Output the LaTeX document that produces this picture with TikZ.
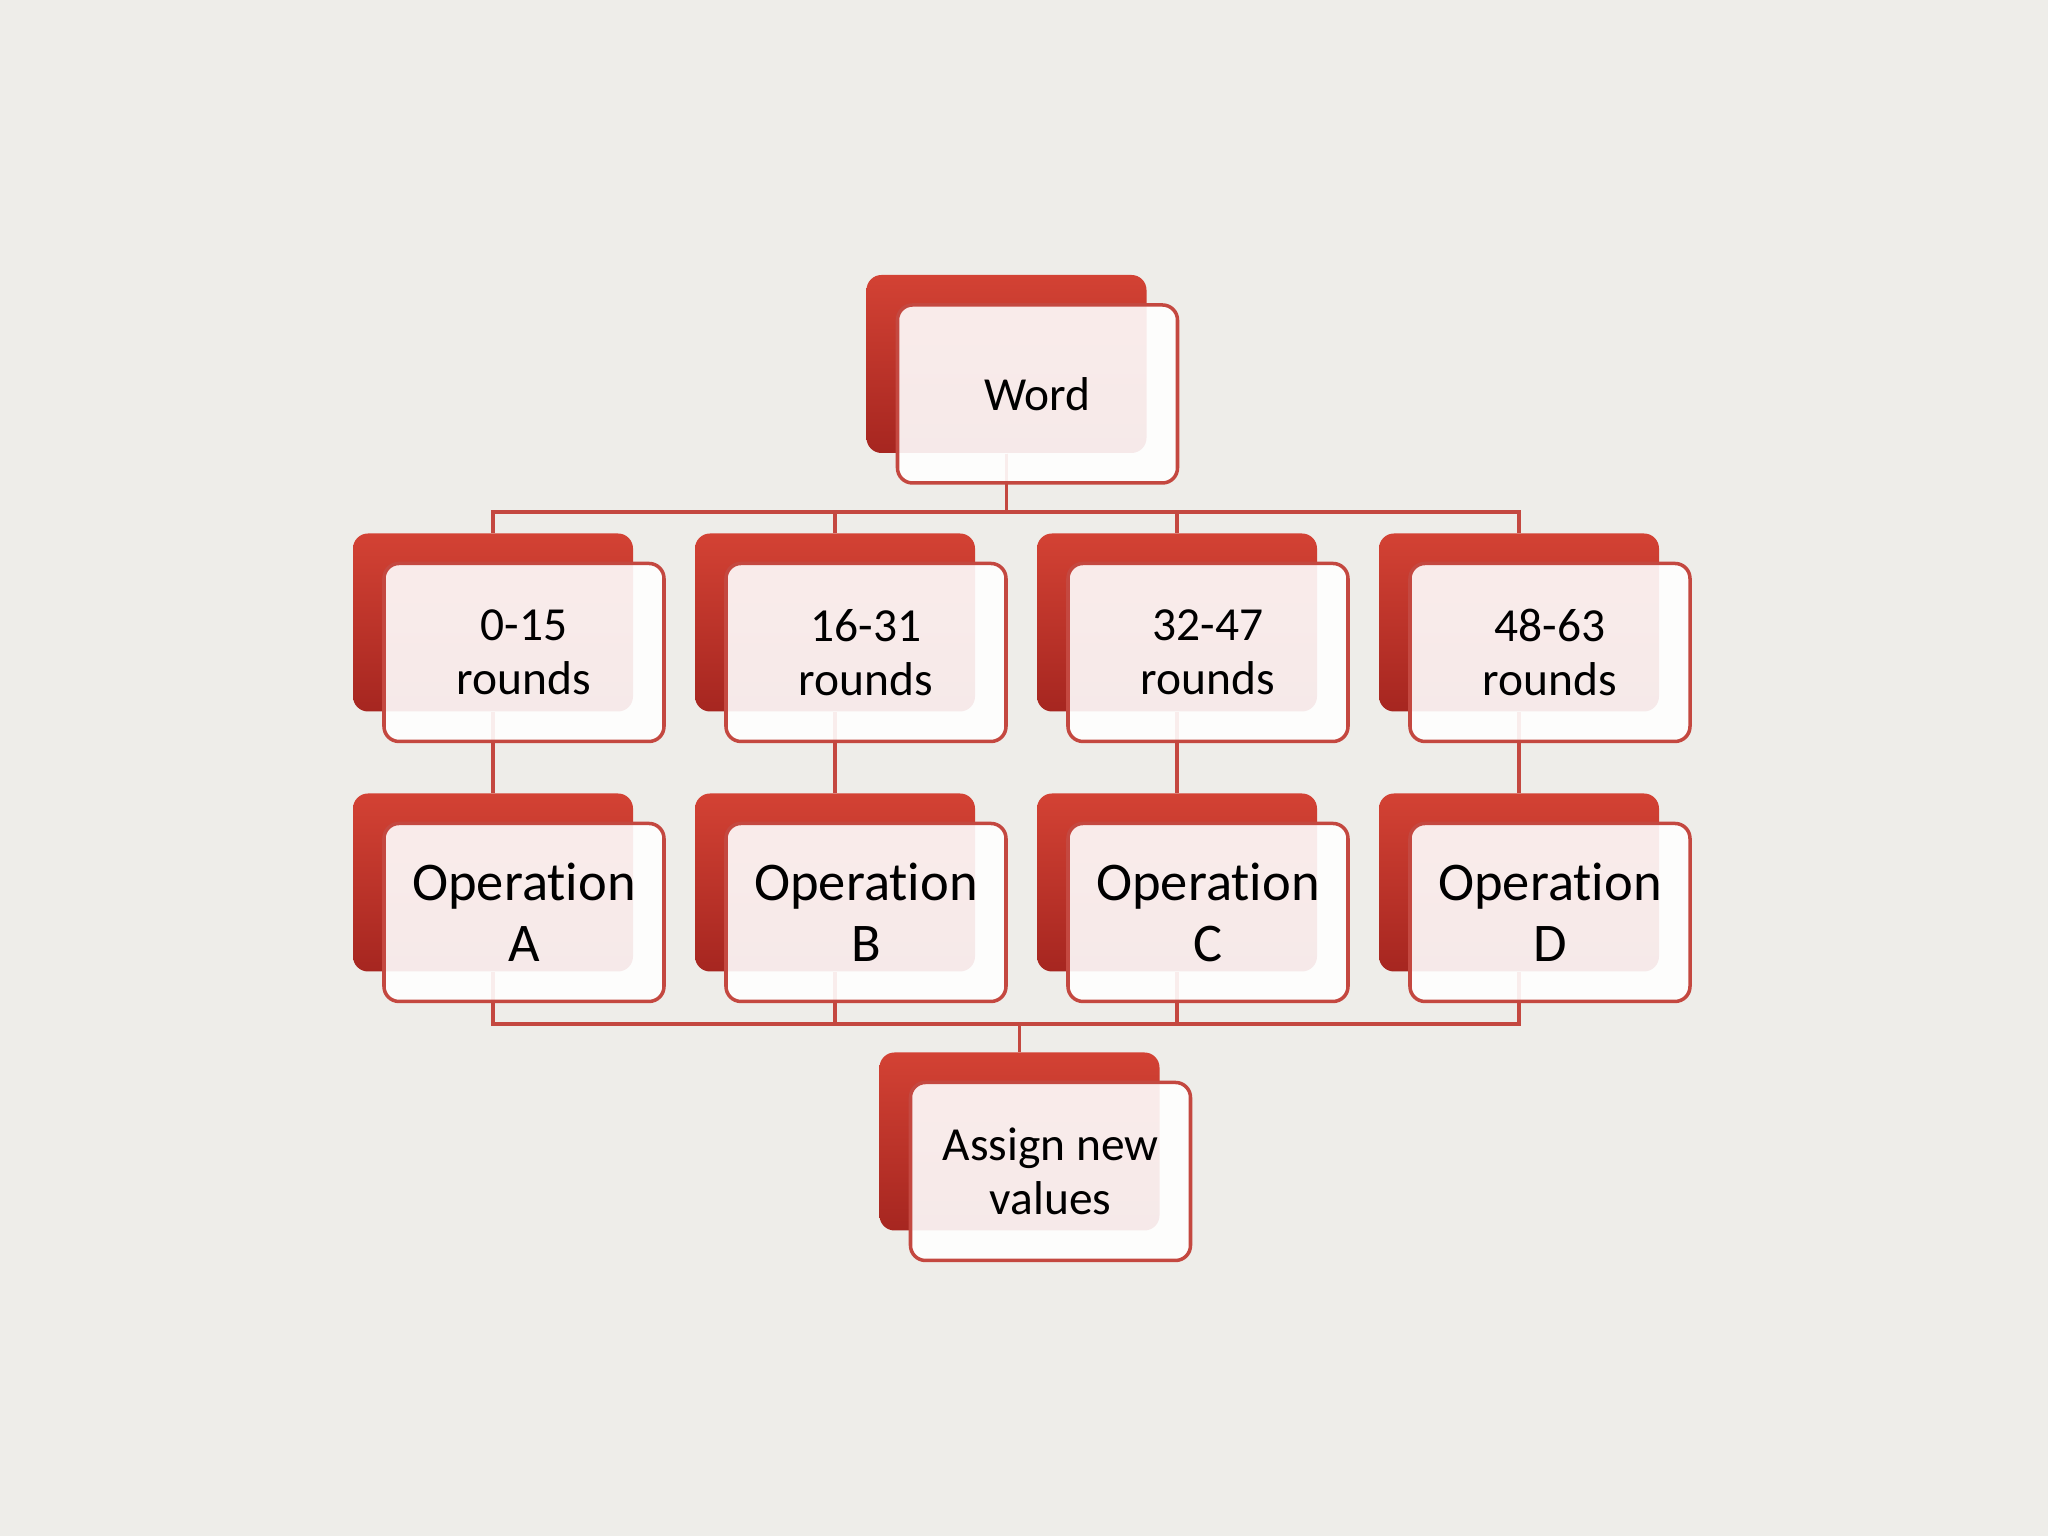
\documentclass[tikz,border=0pt]{standalone}
\usepackage{fontspec}
\setmainfont{Carlito}[RawFeature={-liga;-clig;-calt;-dlig}]
\usetikzlibrary{positioning}

\definecolor{paper}{RGB}{238,237,233}
\definecolor{boxtop}{RGB}{211,66,52}
\definecolor{boxbot}{RGB}{166,38,32}
\definecolor{boxline}{RGB}{196,72,64}

\tikzset{
  redbox/.style={rounded corners=0.15cm, minimum width=2.8cm, minimum height=1.78cm,
    inner sep=0pt, top color=boxtop, bottom color=boxbot},
  textbox/.style={rounded corners=0.15cm, minimum width=2.8cm, minimum height=1.78cm,
    inner sep=0pt, draw=boxline, line width=1pt, fill=white, fill opacity=0.9,
    text opacity=1, align=center, font=\fontsize{13.5}{15.4}\selectfont},
  bigtext/.style={font=\fontsize{15.5}{17.3}\selectfont},
  link/.style={draw=boxline, line width=1.1pt}
}

\begin{document}
\begin{tikzpicture}

    % paper
    \fill[paper] (0,0) rectangle (20.48,15.36);

    % back boxes
    \node[redbox] (word) at (10.065,11.72) {};
    \foreach \i/\x in {1/4.93, 2/8.35, 3/11.77, 4/15.19} {
        \node[redbox] (r\i) at (\x,9.135) {};
        \node[redbox] (op\i) at (\x,6.535) {};
    }
    \node[redbox] (assign) at (10.195,3.945) {};

    % connectors
    \foreach \i in {1,...,4} {
        \draw[link] (word.south) -- ++(0,-0.58) -| (r\i.north);
        \draw[link] (r\i.south) -- (op\i.north);
        \draw[link] (assign.north) -- ++(0,0.275) -| (op\i.south);
    }

    % front boxes
    \node[textbox] (wordT) at ([shift={(0.31,-0.30)}]word.center) {Word};
    \foreach \i/\lab/\op in {1/0-15/A, 2/16-31/B, 3/32-47/C, 4/48-63/D} {
        \node[textbox] (r\i T) at ([shift={(0.31,-0.30)}]r\i.center) {\lab\\rounds};
        \node[textbox,bigtext] (op\i T) at ([shift={(0.31,-0.30)}]op\i.center) {Operation\\\op};
    }
    \node[textbox] (assignT) at ([shift={(0.31,-0.30)}]assign.center) {Assign new\\values};

\end{tikzpicture}
\end{document}
